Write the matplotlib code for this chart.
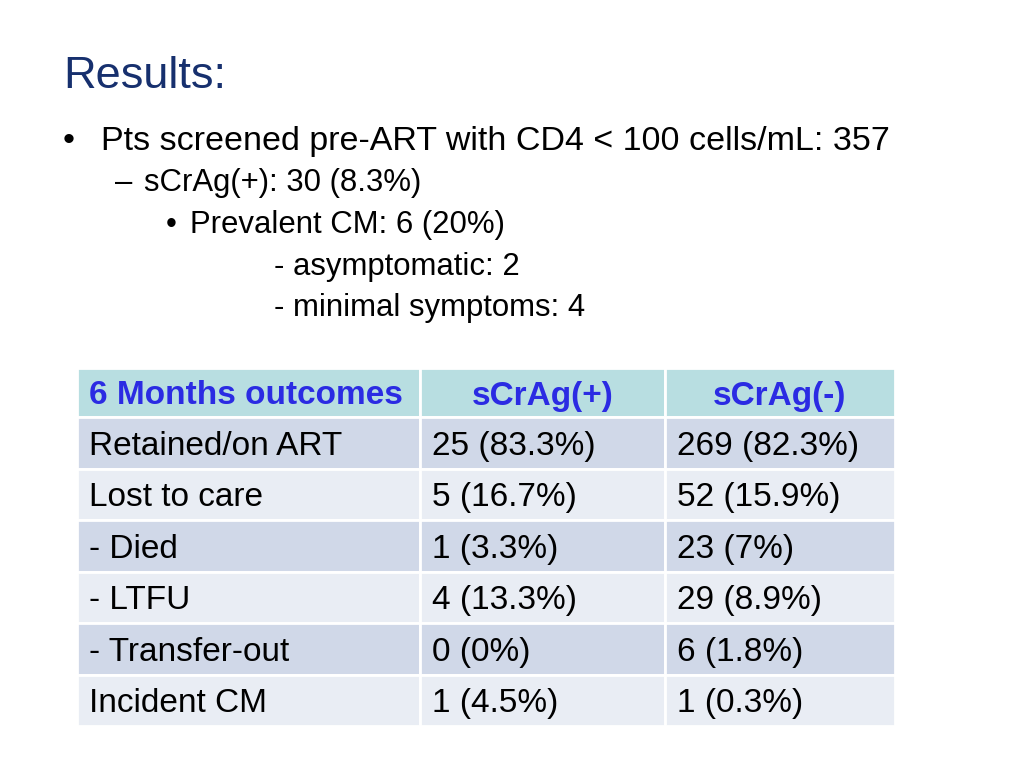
import matplotlib
matplotlib.use('Agg')
import matplotlib.pyplot as plt
from matplotlib.patches import Rectangle

plt.rcParams['font.family'] = ['Liberation Sans', 'DejaVu Sans']

# slide text
title = "Results:"
bullets = [
    # (level, marker, text)
    (0, "•", "Pts screened pre-ART with CD4 < 100 cells/mL: 357"),
    (1, "–", "sCrAg(+): 30 (8.3%)"),
    (2, "•", "Prevalent CM: 6 (20%)"),
    (3, "", "- asymptomatic: 2"),
    (3, "", "- minimal symptoms: 4"),
]

# table data
col_headers = ["6 Months outcomes", "sCrAg(+)", "sCrAg(-)"]
row_labels = ["Retained/on ART", "Lost to care", "- Died", "- LTFU",
              "- Transfer-out", "Incident CM"]
pos_vals = ["25 (83.3%)", "5 (16.7%)", "1 (3.3%)", "4 (13.3%)",
            "0 (0%)", "1 (4.5%)"]
neg_vals = ["269 (82.3%)", "52 (15.9%)", "23 (7%)", "29 (8.9%)",
            "6 (1.8%)", "1 (0.3%)"]

fig = plt.figure(figsize=(10.24, 7.68), dpi=100)
ax = fig.add_axes([0, 0, 1, 1])
ax.set_xlim(0, 1024)
ax.set_ylim(768, 0)
ax.axis('off')

ax.text(63, 88, title, fontsize=32.5, color='#17306e', va='baseline')

# bullet layout per level: marker x, text x, font size
levels = {0: (63, 101, 24.5), 1: (115, 144, 22.4), 2: (166, 190, 22.4),
          3: (None, 274, 22.4)}
baselines = [150, 191, 233, 275, 316]
for (lvl, mark, txt), yb in zip(bullets, baselines):
    mx, tx, fs = levels[lvl]
    if mark:
        ax.text(mx, yb, mark, fontsize=fs, va='baseline', color='black')
    ax.text(tx, yb, txt, fontsize=fs, va='baseline', color='black')

# table geometry
col_edges = [77, 420, 665, 895]
top, head_h, row_h = 368, 49, 51.5
head_bg = '#b8dee1'
band = ['#d0d8e8', '#e9edf4']
head_col = '#2b2be3'
pad = 12

for j, h in enumerate(col_headers):
    x0, x1 = col_edges[j], col_edges[j + 1]
    ax.add_patch(Rectangle((x0, top), x1 - x0, head_h, facecolor=head_bg,
                           edgecolor='white', lw=2))
    yc = top + head_h / 2
    if j == 0:
        ax.text(x0 + pad, yc, h, fontsize=24, fontweight='bold', color=head_col,
                va='center_baseline')
    else:
        ax.text((x0 + x1) / 2, yc, h, fontsize=24, fontweight='bold',
                color=head_col, va='center_baseline', ha='center')

for i, row in enumerate(zip(row_labels, pos_vals, neg_vals)):
    y0 = top + head_h + i * row_h
    for j, cell in enumerate(row):
        x0, x1 = col_edges[j], col_edges[j + 1]
        ax.add_patch(Rectangle((x0, y0), x1 - x0, row_h, facecolor=band[i % 2],
                               edgecolor='white', lw=2))
        ax.text(x0 + pad, y0 + row_h / 2, cell, fontsize=24, color='black',
                va='center_baseline')

fig.savefig('out.png', dpi=100, facecolor='white')
